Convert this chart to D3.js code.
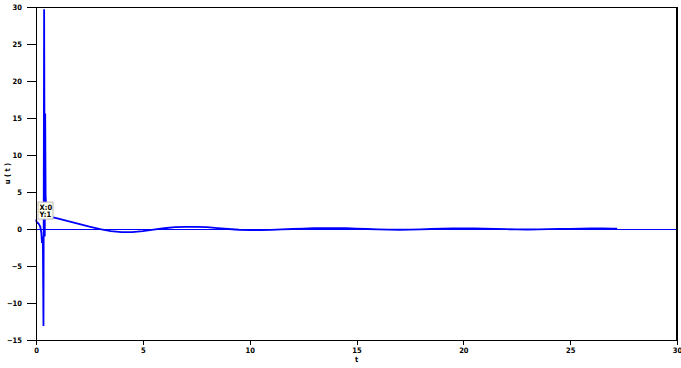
<!DOCTYPE html>
<html>
<head>
<meta charset="utf-8">
<script src="https://cdn.jsdelivr.net/npm/d3@7"></script>
<style>
  body { margin: 0; background: #fff; }
  svg { display: block; }
  .tick text, .lbl { font-family: "DejaVu Sans Condensed", "Liberation Sans Narrow", sans-serif; font-weight: bold; font-size: 7.5px; fill: #000; }
  .domain, .tick line { shape-rendering: crispEdges; }
</style>
</head>
<body>
<svg id="chart" width="681" height="368"></svg>
<script>
// time samples (s) and response u(t)
const tValues = [0, 0.05, 0.1, 0.15, 0.2, 0.25, 0.28, 0.32, 0.35, 0.38, 0.41, 0.43, 0.45, 0.5,
  1.0, 1.5, 2.0, 2.5, 3.0, 3.5, 4.0, 4.5, 5.0, 5.5, 6.0, 6.5, 7.0, 7.5, 8.0, 8.5, 9.0, 9.5,
  10.0, 10.5, 11.0, 11.5, 12.0, 12.5, 13.0, 13.5, 14.0, 14.5, 15.0, 15.5, 16.0, 16.5, 17.0,
  17.5, 18.0, 18.5, 19.0, 19.5, 20.0, 20.5, 21.0, 21.5, 22.0, 22.5, 23.0, 23.5, 24.0, 24.5,
  25.0, 25.5, 26.0, 26.5, 27.0, 27.2];
const uValues = [1.3, 0.8, 0.8, 0.6, 0.3, -0.5, -1.9, -1.0, -13.1, 29.7, -1.0, 15.6, 4.5, 1.75,
  1.45, 1.05, 0.7, 0.32, -0.02, -0.28, -0.42, -0.42, -0.28, -0.08, 0.1, 0.24, 0.3, 0.3, 0.24, 0.12, 0.0, -0.1,
  -0.15, -0.15, -0.12, -0.06, 0.0, 0.06, 0.11, 0.13, 0.13, 0.1, 0.05, 0.0, -0.05, -0.09, -0.1,
  -0.08, -0.04, 0.0, 0.05, 0.08, 0.09, 0.08, 0.04, 0.0, -0.03, -0.06, -0.07, -0.06, -0.03, 0.0,
  0.03, 0.06, 0.07, 0.07, 0.05, 0.04];
const xTicks = [0, 5, 10, 15, 20, 25, 30];
const yTicks = [-15, -10, -5, 0, 5, 10, 15, 20, 25, 30];
const datatip = {x: 0, y: 1};

const svg = d3.select("#chart");
const margin = {left: 36, right: 4, top: 7, bottom: 28};
const W = 681, H = 368;

const x = d3.scaleLinear().domain([0, 30]).range([margin.left, W - margin.right]);
const y = d3.scaleLinear().domain([-15, 30]).range([H - margin.bottom, margin.top]);

const series = tValues.map((t, i) => ({t, u: uValues[i]}));

// frame (top)
svg.append("path")
    .attr("d", `M${x(0)},${y(30) + 0.5}H${x(30)}`)
    .attr("shape-rendering", "crispEdges")
    .attr("stroke", "#000").attr("stroke-width", 1).attr("fill", "none");

// zero reference line
svg.append("line")
    .attr("x1", x(0)).attr("x2", x(30))
    .attr("y1", Math.round(y(0)) + 0.5).attr("y2", Math.round(y(0)) + 0.5)
    .attr("shape-rendering", "crispEdges")
    .attr("stroke", "#0000ff").attr("stroke-width", 1);

// response
svg.append("path")
    .datum(series)
    .attr("fill", "none")
    .attr("stroke", "#0000ff")
    .attr("stroke-width", 1.8)
    .attr("d", d3.line().x(d => x(d.t)).y(d => y(d.u)));

// right edge of the frame
svg.append("line")
    .attr("x1", x(30)).attr("x2", x(30))
    .attr("y1", y(30)).attr("y2", y(-15))
    .attr("shape-rendering", "crispEdges")
    .attr("stroke", "#000").attr("stroke-width", 2);

// axes
const xAxis = svg.append("g")
    .attr("transform", `translate(0,${y(-15)})`)
    .call(d3.axisBottom(x).tickValues(xTicks).tickSize(5).tickPadding(3).tickFormat(d3.format("d")));
const yAxis = svg.append("g")
    .attr("transform", `translate(${x(0)},0)`)
    .call(d3.axisLeft(y).tickValues(yTicks).tickSize(9).tickPadding(5).tickFormat(d3.format("d")));
[xAxis, yAxis].forEach(g => {
    g.select(".domain").attr("stroke", "#000");
    g.selectAll(".tick line").attr("stroke", "#000");
});

// axis labels
svg.append("text").attr("class", "lbl")
    .attr("x", x(15)).attr("y", 362)
    .attr("text-anchor", "middle")
    .text("t");
svg.append("text").attr("class", "lbl")
    .attr("transform", `translate(10,${(y(30) + y(-15)) / 2}) rotate(-90)`)
    .attr("text-anchor", "middle")
    .text("u ( t )");

// datatip
const tip = svg.append("g")
    .attr("transform", `translate(${x(datatip.x) + 1.5},${y(datatip.y) - 20})`);
tip.append("rect")
    .attr("x", 0.5).attr("y", 0.5)
    .attr("width", 15).attr("height", 17)
    .attr("fill", "#ffffee").attr("stroke", "#b8b8b8");
tip.append("text").attr("class", "lbl")
    .attr("x", 2).attr("y", 8).text(`X:${datatip.x}`);
tip.append("text").attr("class", "lbl")
    .attr("x", 2).attr("y", 15.5).text(`Y:${datatip.y}`);
</script>
</body>
</html>
